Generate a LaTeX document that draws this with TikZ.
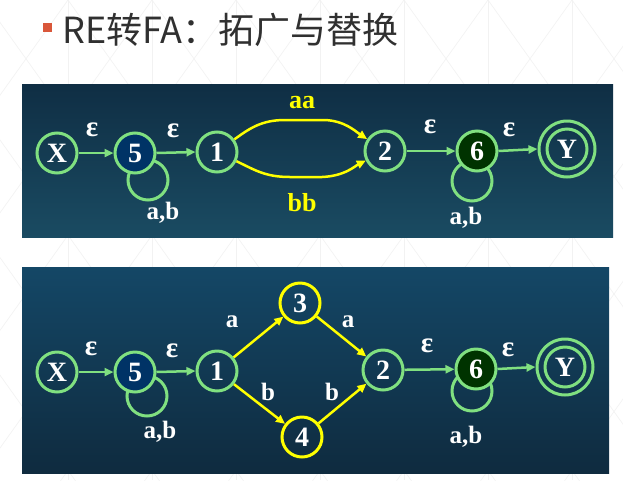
\documentclass[tikz,border=0pt]{standalone}
\usepackage{fontspec}
\setmainfont{Liberation Serif}
\newfontfamily\cjk{Noto Sans CJK SC}
\usetikzlibrary{arrows.meta}
\definecolor{grn}{HTML}{80E080}
\definecolor{ylw}{HTML}{FFFF00}
\definecolor{fillfive}{HTML}{003366}
\definecolor{fillsix}{HTML}{003300}
\definecolor{ponetop}{HTML}{0F2E44}
\definecolor{ponebot}{HTML}{1A4B62}
\definecolor{ptwotop}{HTML}{144766}
\definecolor{ptwobot}{HTML}{0F2B3F}
\definecolor{tgray}{HTML}{303030}
\definecolor{bul}{HTML}{D9573A}
\definecolor{patt}{HTML}{F2F2F2}
\pgfdeclarelayer{back}
\pgfdeclarelayer{loops}
\pgfsetlayers{back,loops,main}
\begin{document}
\begin{tikzpicture}[x=1pt,y=-1pt,
  st/.style={circle,draw=grn,line width=3pt,minimum size=40pt,inner sep=0pt,text=white,font=\fontsize{28}{28}\selectfont\bfseries},
  yst/.style={circle,draw=ylw,line width=3pt,minimum size=40pt,inner sep=0pt,text=white,font=\fontsize{28}{28}\selectfont\bfseries},
  lbl/.style={text=white,inner sep=0pt,font=\fontsize{25}{25}\selectfont\bfseries},
  elbl/.style={text=white,inner sep=0pt,font=\fontsize{29}{29}\selectfont\bfseries},
  ylbl/.style={text=ylw,inner sep=0pt,font=\fontsize{26}{26}\selectfont\bfseries},
  gedge/.style={draw=grn,line width=2.5pt,-{Triangle[length=9pt,width=8pt]}},
  yedge/.style={draw=ylw,line width=2.5pt,-{Triangle[length=9pt,width=8pt]}},
  loopline/.style={draw=grn,line width=3pt},
  pline/.style={draw=patt,line width=0.6pt}]
\useasboundingbox (0,0) rectangle (623,480);
\begin{pgfonlayer}{back}
\fill[white] (0,0) rectangle (623,480);
\begin{scope}
\clip (0,0) rectangle (623,480);
\foreach \k in {-1,...,7} {\draw[pline] (68+84*\k,0) -- (68+84*\k,480);}
\foreach \k in {-8,...,10} {
  \draw[pline] (68+84*\k,0) -- ++(420,588);
  \draw[pline] (68+84*\k,0) -- ++(-420,588);}
\end{scope}
\shade[top color=ponetop,bottom color=ponebot] (22,84) rectangle (613,237);
\shade[top color=ptwotop,bottom color=ptwobot] (22,267) rectangle (609,473);
\end{pgfonlayer}
% title
\node[fill=bul,minimum size=9pt,inner sep=0pt] (bullet) at (47,27) {};
\node[anchor=west,inner sep=0pt,text=tgray,font=\cjk\fontsize{36}{36}\selectfont] (title) at (62,30) {RE转FA：拓广与替换};
% ---------- top panel ----------
\node[st] (tX) at (57,153) {X};
\node[st,fill=fillfive] (t5) at (135,153) {5};
\node[st] (t1) at (217,152) {1};
\node[st] (t2) at (385,151) {2};
\node[st,fill=fillsix] (t6) at (477,151) {6};
\node[st] (tY) at (567,149) {Y};
\draw[grn,line width=3pt] (tY.center) circle[radius=28pt];
\begin{pgfonlayer}{loops}
\draw[loopline] ([shift={(13pt,-27pt)}]t5.center) circle[radius=20pt];
\draw[loopline] ([shift={(-5pt,-30pt)}]t6.center) circle[radius=20pt];
\end{pgfonlayer}
\draw[gedge] (tX) -- (t5);
\draw[gedge] (t5.east) -- (t1.west);
\draw[gedge] (t2) -- (t6);
\draw[gedge] (t6.east) -- ([xshift=-8pt]tY.west);
\draw[yedge] (t1) .. controls (250,128) and (262,120) .. (285,120) -- (325,120) .. controls (345,121) and (355,131) .. (t2);
\draw[yedge] (t1) .. controls (255,170) and (265,177) .. (290,177) -- (322,177) .. controls (345,176) and (355,166) .. (t2);
\node[elbl] (te1) at (92,130) {ε};
\node[elbl] (te2) at (173,131) {ε};
\node[elbl] (te3) at (430,127) {ε};
\node[elbl] (te4) at (509,130) {ε};
\node[lbl] (tab5) at (163,213) {a,b};
\node[lbl] (tab6) at (466,218) {a,b};
\node[ylbl] (taa) at (302,103) {aa};
\node[ylbl] (tbb) at (302,203) {bb};
% ---------- bottom panel ----------
\node[st] (bX) at (57,372) {X};
\node[st,fill=fillfive] (b5) at (135,372) {5};
\node[st] (b1) at (217,371) {1};
\node[yst] (b3) at (300,303) {3};
\node[yst] (b4) at (302,437) {4};
\node[st] (b2) at (383,370) {2};
\node[st,fill=fillsix] (b6) at (476,369) {6};
\node[st] (bY) at (565,367) {Y};
\draw[grn,line width=3pt] (bY.center) circle[radius=28pt];
\begin{pgfonlayer}{loops}
\draw[loopline] ([shift={(12pt,-24pt)}]b5.center) circle[radius=20pt];
\draw[loopline] ([shift={(-4pt,-22pt)}]b6.center) circle[radius=20pt];
\end{pgfonlayer}
\draw[gedge] (bX) -- (b5);
\draw[gedge] (b5.east) -- (b1.west);
\draw[gedge] (b2) -- (b6);
\draw[gedge] (b6.east) -- ([xshift=-8pt]bY.west);
\draw[yedge] (b1) -- (b3);
\draw[yedge] (b1) -- (b4);
\draw[yedge] (b3) -- (b2);
\draw[yedge] (b4) -- (b2);
\node[elbl] (be1) at (91,349) {ε};
\node[elbl] (be2) at (172,351) {ε};
\node[elbl] (be3) at (427,346) {ε};
\node[elbl] (be4) at (508,350) {ε};
\node[lbl] (bab5) at (160,432) {a,b};
\node[lbl] (bab6) at (466,437) {a,b};
\node[lbl] (ba1) at (232,322) {a};
\node[lbl] (bb1) at (268,392) {b};
\node[lbl] (ba2) at (348,322) {a};
\node[lbl] (bb2) at (332,392) {b};
\end{tikzpicture}
\end{document}
